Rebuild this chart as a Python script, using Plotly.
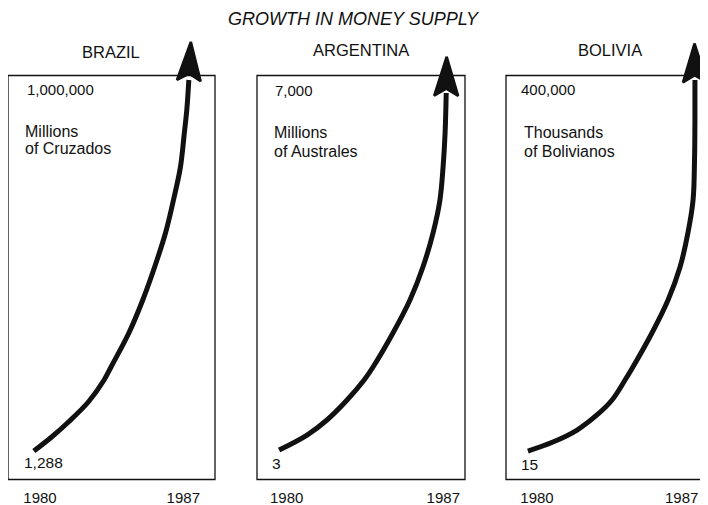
import plotly.graph_objects as go

# The page shows the figure with an 8 px body margin, so the figure is drawn
# 8 px smaller and all reference pixel positions are shifted by that offset.
REF_W, REF_H = 708, 505
OFF = 8
W, H = REF_W - OFF, REF_H - OFF

# ---------------- data ----------------
title_text = "GROWTH IN MONEY SUPPLY"
countries = ["BRAZIL", "ARGENTINA", "BOLIVIA"]
top_values = ["1,000,000", "7,000", "400,000"]
start_values = ["1,288", "3", "15"]
unit_line1 = ["Millions", "Millions", "Thousands"]
unit_line2 = ["of Cruzados", "of Australes", "of Bolivianos"]
year_ticks = [1980, 1987]
year_labels = ["1980", "1987"]

# curves: x = year, y = level as % of the panel's box height
brazil_year = [1979.70, 1980.57, 1981.39, 1982.36, 1983.13, 1983.47, 1984.34,
               1985.02, 1985.60, 1986.13, 1986.52, 1986.86, 1987.05, 1987.17,
               1987.27]
brazil_level = [7.05, 10.52, 14.23, 19.18, 24.63, 27.85, 36.26,
                44.43, 52.60, 61.01, 69.18, 77.35, 85.77, 91.46,
                98.89]
brazil_tip = (1987.37, 108.37)

argentina_year = [1979.66, 1980.91, 1981.80, 1982.70, 1983.46, 1983.86, 1984.75,
                  1985.51, 1986.09, 1986.54, 1986.85, 1986.99, 1987.08, 1987.13]
argentina_level = [7.30, 11.01, 14.73, 19.68, 24.63, 27.85, 36.26,
                   44.43, 52.60, 61.01, 69.18, 77.35, 85.77, 95.67]
argentina_tip = (1987.15, 104.65)

bolivia_year = [1979.56, 1980.77, 1981.94, 1982.90, 1983.63, 1984.26, 1984.64,
                1985.56, 1986.34, 1986.92, 1987.30, 1987.55, 1987.62, 1987.64,
                1987.64]
bolivia_level = [7.05, 9.28, 12.25, 15.97, 19.68, 24.63, 27.85,
                 36.26, 44.43, 52.60, 61.01, 69.18, 79.08, 88.99,
                 98.89]
bolivia_tip = (1987.62, 107.97)

curves = [(brazil_year, brazil_level, brazil_tip),
          (argentina_year, argentina_level, argentina_tip),
          (bolivia_year, bolivia_level, bolivia_tip)]

# ---------------- layout geometry (reference pixels) ----------------
FONT = "Liberation Sans, Arial, Helvetica, sans-serif"
INK = "#111111"
box_left = [6, 257, 506]
box_right = [215, 465, 708]
tick_px = [(38.3, 183.0), (286.7, 443.3), (537.0, 681.7)]
Y_BOT = 479.5          # reference pixel of box bottom (level 0)
PX_PER_LEVEL = 4.04    # pixels per level unit (box = 100 units)
Y_TOP_PX = 35.0        # top of plotting area
y_range = [0, (Y_BOT - Y_TOP_PX) / PX_PER_LEVEL]

title_y = [52, 50.5, 50.5]
top_val_y = [89.5, 91, 90]
unit_y = [(131.7, 149.0), (132.5, 151.0), (132.5, 151.0)]
unit_x = [22.7, 271.7, 521.7]
top_val_x = [25, 273.3, 519.3]
start_x = [21.7, 270.0, 519.3]
start_y = [462.5, 463.0, 464.0]
panel_center = [110.8, 361.0, 610.0]


def fx(px):
    return (px - OFF) / W


def fy(py):
    return 1 - (py - OFF) / H


fig = go.Figure()
annotations = []
shapes = []

for i in range(3):
    sfx = "" if i == 0 else str(i + 1)
    x0, x1 = box_left[i], box_right[i]
    t0, t1 = tick_px[i]
    ppy = (t1 - t0) / (year_ticks[1] - year_ticks[0])
    xr = [year_ticks[0] + (x0 - t0) / ppy, year_ticks[0] + (x1 - t0) / ppy]

    def to_px(x, y, x0=x0, x1=x1, xr=xr):
        return (x0 + (x - xr[0]) / (xr[1] - xr[0]) * (x1 - x0),
                Y_BOT - y * PX_PER_LEVEL)

    def from_px(px, py, x0=x0, x1=x1, xr=xr):
        return (xr[0] + (px - x0) / (x1 - x0) * (xr[1] - xr[0]),
                (Y_BOT - py) / PX_PER_LEVEL)

    xs, ys, tip = curves[i]
    fig.add_trace(go.Scatter(
        x=xs, y=ys, mode="lines",
        line=dict(color=INK, width=5, shape="spline", smoothing=1.0),
        xaxis="x" + sfx, yaxis="y" + sfx, hoverinfo="skip", showlegend=False))

    # arrow head built from the last curve point and the tip
    lx, ly = to_px(xs[-1], ys[-1])
    tx, ty = to_px(*tip)
    dx, dy = tx - lx, ty - ly
    norm = (dx * dx + dy * dy) ** 0.5
    dx, dy = dx / norm, dy / norm
    nx, ny = -dy, dx
    L, HW, NOTCH = 39.0, 12.0, 32.0
    bx, by = tx - L * dx, ty - L * dy
    pts_px = [(tx, ty), (bx - HW * nx, by - HW * ny),
              (tx - NOTCH * dx, ty - NOTCH * dy),
              (bx + HW * nx, by + HW * ny), (tx, ty)]
    pts = [from_px(px, py) for px, py in pts_px]
    fig.add_trace(go.Scatter(
        x=[p[0] for p in pts], y=[p[1] for p in pts], mode="lines",
        fill="toself", fillcolor=INK,
        line=dict(color=INK, width=2.5),
        xaxis="x" + sfx, yaxis="y" + sfx, hoverinfo="skip", showlegend=False))

    fig.update_layout(**{
        "xaxis" + sfx: dict(
            domain=[max(0.0, fx(x0)), min(1.0, fx(x1))], range=xr,
            anchor="y" + sfx,
            tickvals=year_ticks, ticktext=year_labels, ticks="",
            showline=False, showgrid=False, zeroline=False,
            tickfont=dict(family=FONT, size=15, color=INK),
            ticklabelstandoff=7, fixedrange=True),
        "yaxis" + sfx: dict(
            domain=[fy(Y_BOT), fy(Y_TOP_PX)], range=y_range,
            anchor="x" + sfx, visible=False, fixedrange=True),
    })

    # panel box
    top_frac = 100 / y_range[1]
    shapes.append(dict(type="rect", xref="x" + sfx + " domain",
                       yref="y" + sfx + " domain",
                       x0=0, x1=1.0 if i < 2 else 1.03, y0=0, y1=top_frac,
                       line=dict(color=INK, width=1.3), layer="below"))

    def txt(text, x, y, size=15, anchor="left"):
        annotations.append(dict(
            text=text, x=fx(x), y=fy(y), xref="paper", yref="paper",
            xanchor=anchor, yanchor="middle", showarrow=False,
            font=dict(family=FONT, size=size, color=INK)))

    txt(countries[i], panel_center[i], title_y[i], size=16.5, anchor="center")
    txt(top_values[i], top_val_x[i], top_val_y[i])
    txt(unit_line1[i], unit_x[i], unit_y[i][0], size=16)
    txt(unit_line2[i], unit_x[i], unit_y[i][1], size=16)
    txt(start_values[i], start_x[i], start_y[i], size=15.5)

annotations.append(dict(
    text=title_text, x=fx(354), y=fy(19), xref="paper", yref="paper",
    xanchor="center", yanchor="middle", showarrow=False,
    font=dict(family=FONT, size=18, color=INK, style="italic")))

fig.update_layout(
    width=W, height=H, margin=dict(l=0, r=0, t=0, b=0),
    paper_bgcolor="white", plot_bgcolor="rgba(0,0,0,0)",
    annotations=annotations, shapes=shapes, showlegend=False)

fig.write_html("out.html", config={"displayModeBar": False})
